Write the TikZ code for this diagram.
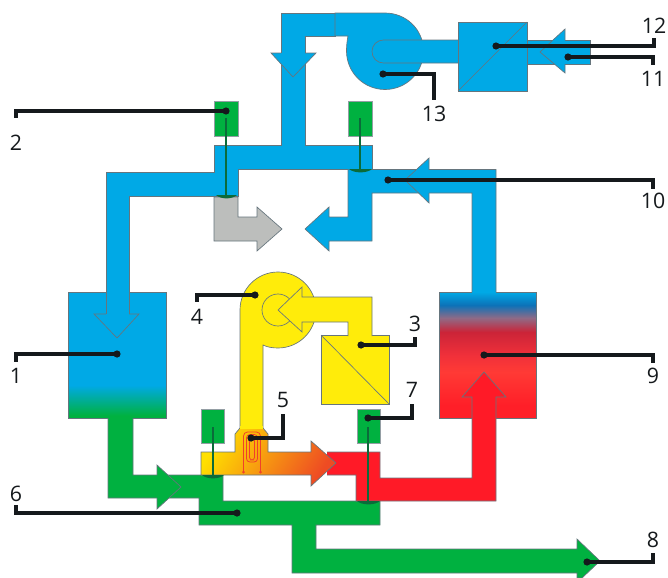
\documentclass[tikz,border=0pt]{standalone}
\usepackage{fontspec}
\setmainfont{Open Sans}
\definecolor{cblue}{HTML}{00A9E6}
\definecolor{cgreen}{HTML}{00B140}
\definecolor{cred}{HTML}{FF1A27}
\definecolor{cyell}{HTML}{FFEC0A}
\definecolor{cgray}{HTML}{BCBEBC}
\definecolor{cedge}{HTML}{66757D}
\definecolor{cdark}{HTML}{0B6B3A}
\definecolor{cink}{HTML}{15191C}
\definecolor{coil}{HTML}{F0402A}
\definecolor{heatA}{HTML}{FFE000}
\definecolor{heatB}{HTML}{FFA01C}
\definecolor{heatC}{HTML}{EE4B23}
\definecolor{tkA}{HTML}{00A9E6}
\definecolor{tkB}{HTML}{0C72B8}
\definecolor{tkC}{HTML}{8F6A86}
\definecolor{tkD}{HTML}{CB2438}
\definecolor{tkE}{HTML}{F0303A}
\definecolor{tkF}{HTML}{FF3A35}
\definecolor{tkG}{HTML}{FF1F28}
\pgfdeclareverticalshading{tankcold}{100bp}{color(0bp)=(cgreen); color(26bp)=(cgreen); color(38bp)=(cblue); color(100bp)=(cblue)}
\pgfdeclareverticalshading{tankhot}{100bp}{color(0bp)=(tkG); color(30bp)=(tkG); color(43.3bp)=(tkF); color(50bp)=(tkE); color(59.1bp)=(tkD); color(64.7bp)=(tkC); color(69.8bp)=(tkB); color(75bp)=(tkA); color(100bp)=(tkA)}
\tikzset{
  x=0.75pt,y=-0.75pt,
  duct/.style={draw=cedge,line width=0.5pt,line join=miter},
  blueduct/.style={duct,fill=cblue},
  greenduct/.style={duct,fill=cgreen},
  yellowduct/.style={duct,fill=cyell},
  sensorbox/.style={draw=cedge!70,line width=0.4pt,fill=cgreen},
  stem/.style={draw=cdark,line width=0.9pt},
  dome/.style={fill=cdark},
  coilline/.style={draw=coil,line width=0.6pt},
  leader/.style={draw=cink,line width=2.5pt,line join=miter},
  dotmark/.style={circle,fill=cink,inner sep=0pt,minimum size=5.4pt},
  numlabel/.style={font=\fontsize{16}{18}\selectfont,text=cink,inner sep=0pt}
}
\begin{document}
\begin{tikzpicture}
\useasboundingbox (0,0) rectangle (668,578);
% --- cold tank
\shade[shading=tankcold] (68,292) rectangle (166,418);
\draw[duct] (106,292) -- (68,292) -- (68,418) -- (166,418) -- (166,292) -- (129,292);
% --- blue network, left part with top duct
\path[blueduct] (129,314) -- (129,196) -- (238,196) -- (238,169.5) -- (348,169.5) -- (372,169.5) -- (372,145) -- (305,145) -- (305,36) -- (335,36) -- (335,13) -- (281,13) -- (281,145) -- (214,145) -- (214,172) -- (106,172) -- (106,314);
\path[blueduct] (106,314) -- (94,314) -- (117,338) -- (139,314) -- (129,314);
\path[blueduct] (281,53) -- (271,53) -- (293,77) -- (316,53) -- (305,53);
% --- fan and outlet
\path[blueduct] (335,13) -- (385,13) .. controls (406.3,13) and (423.5,29.7) .. (423.5,51) .. controls (423.5,72.3) and (406.3,89.5) .. (385,89.5) .. controls (363.7,89.5) and (346.5,72.3) .. (346.5,51) .. controls (346.5,46) and (347,41) .. (348,36) -- (335,36) -- cycle;
\path[blueduct] (458,40) -- (383.5,40) .. controls (377,40) and (372,45) .. (372,51.5) .. controls (372,58) and (377,63) .. (383.5,63) -- (458,63);
\path[blueduct] (527,40) -- (590,40) -- (590,64) -- (527,64);
\path[blueduct] (565,40) -- (565,29) -- (540,52) -- (565,73) -- (565,64);
\path[blueduct] (458,22) rectangle (527,91);
\draw[duct] (458,91) -- (527,22);
% --- gray branch
\path[duct,fill=cgray] (214,197) -- (238,197) -- (238,217) -- (257,217) -- (257,207) -- (282,229) -- (257,251) -- (257,241) -- (214,241) -- cycle;
% --- right blue branch
\path[blueduct] (348,169.5) -- (348,217) -- (329,217) -- (329,207) -- (305,229) -- (329,251) -- (329,241) -- (372,241) -- (372,193) -- (472,193) -- (472,294) -- (496,294) -- (496,169.5) -- (372,169.5);
\path[blueduct] (429,169.5) -- (429,158) -- (405,180) -- (429,203) -- (429,193);
% --- hot tank
\shade[shading=tankhot] (439,292) rectangle (536,418);
\draw[duct] (472,292) -- (439,292) -- (439,418) -- (536,418) -- (536,292) -- (496,292);
% --- green network
\path[greenduct] (108,418) -- (108,498) -- (199,498) -- (199,525) -- (292,525) -- (292,573) -- (577,573) -- (577,578) -- (582,578) -- (600,561) -- (577,539) -- (577,549) -- (316,549) -- (316,525) -- (380,525) -- (380,501) -- (223,501) -- (223,475) -- (133,475) -- (133,418);
\path[greenduct] (157,475) -- (157,465) -- (181,487) -- (157,509) -- (157,498);
% --- red
\path[duct,fill=cred] (327,452) -- (380,452) -- (380,478) -- (472,478) -- (472,397) -- (462,397) -- (484,372) -- (506,397) -- (496,397) -- (496,501) -- (356,501) -- (356,475) -- (327,475);
% --- yellow circuit
\path[yellowduct] (240,430) -- (240,310) .. controls (240,289) and (257,272) .. (278,272) .. controls (299,272) and (316,289) .. (316,310) .. controls (316,331) and (299,348) .. (278,348) .. controls (272,348) and (267,347) .. (263,345) -- (263,430);
\draw[duct] (278,310) circle[radius=16];
\path[yellowduct] (348,335) -- (321,335) -- (321,404) -- (389,404) -- (389,335) -- (372,335);
\path[yellowduct] (348,336) -- (348,322) -- (302,322) -- (302,332) -- (278,310) -- (302,287) -- (302,297) -- (372,297) -- (372,336);
\draw[duct] (321,335) -- (389,404);
% --- heater with colour gradient
\path[duct,left color=heatA,middle color=heatB,right color=heatC,shading angle=58] (240,428) -- (263,428) -- (268,434) -- (268,452) -- (311,452) -- (311,441) -- (336,463) -- (311,486) -- (311,475) -- (201,475) -- (201,452) -- (235,452) -- (235,434) -- cycle;
\fill[cyell] (240.3,426) rectangle (262.7,429);
% --- heating coil
\draw[coilline,rounded corners=3pt] (243.5,472) -- (243.5,432) -- (260.5,432) -- (260.5,472);
\draw[coilline,rounded corners=2.5pt] (246.5,462) -- (246.5,434.5) -- (257.5,434.5) -- (257.5,462) -- cycle;
\draw[coilline,rounded corners=2pt] (249.5,460) -- (249.5,437) -- (254.5,437) -- (254.5,460) -- cycle;
\fill[coil] (243.5,472) circle[radius=1.5];
\fill[coil] (260.5,472) circle[radius=1.5];
% --- sensors
\path[sensorbox] (214,101) rectangle (238,136);
\path[sensorbox] (348,101) rectangle (372,136);
\path[sensorbox] (201,409) rectangle (224,443);
\path[sensorbox] (357,409) rectangle (380,443);
\draw[stem] (226,118) -- (226,196);
\draw[stem] (360,118) -- (360,170);
\draw[stem] (213,427) -- (213,475);
\draw[stem] (368,427) -- (368,501);
\fill[dome] (216,195) .. controls (221,199.5) and (232,199.5) .. (237,195) -- cycle;
\fill[dome] (349,169) .. controls (354,173.5) and (367,173.5) .. (372,169) -- cycle;
\fill[dome] (202,475) .. controls (207,479.5) and (219,479.5) .. (224,475) -- cycle;
\fill[dome] (357,501) .. controls (362,505.5) and (375,505.5) .. (380,501) -- cycle;
% --- leaders and numbers: name/dot x/dot y/end x/end y/label y
\foreach \n/\dx/\dy/\ex/\ey/\ty in {
  1/117/354/16/362/376,
  2/226/111/16/118/143,
  3/361/345/415/337/324,
  4/255/295/197/302/317,
  5/251/438/283/414/400,
  6/237/513/16/505/494,
  7/368/418/412/404/390,
  8/587/562/653/553/540,
  9/484/355/653/363/376,
  10/388/180/653/189/201,
  11/568/57/653/65/79,
  12/496/46/654/38/26,
  13/383/74/434/100/114}{
  \node[numlabel] (num\n) at (\ex,\ty) {\n};
  \coordinate (end\n) at (\ex,\ey);
  \node[dotmark] (dot\n) at (\dx,\dy) {};
  \draw[leader] (dot\n.center) -| (end\n);
}
\end{tikzpicture}
\end{document}
